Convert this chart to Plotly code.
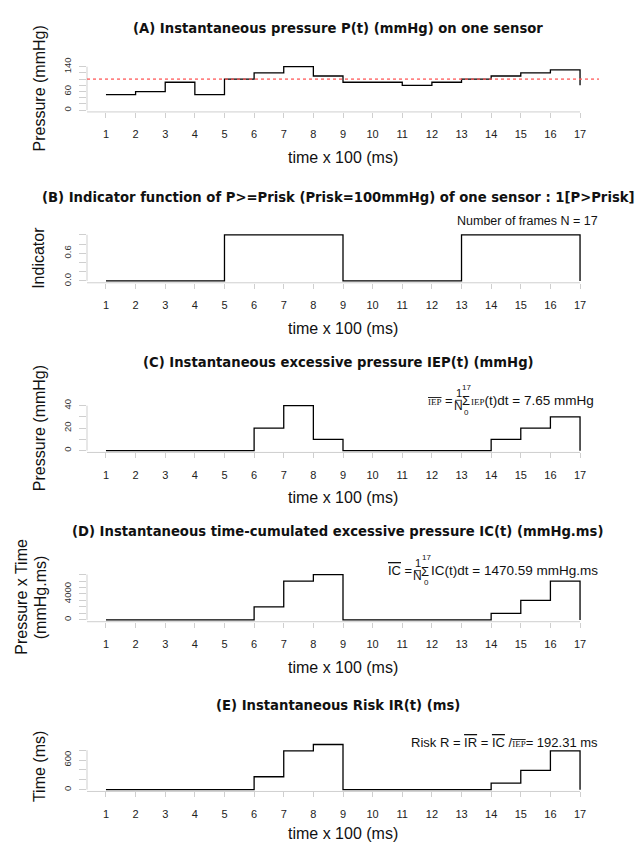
import plotly.graph_objects as go

# ---------------- data ----------------
time = list(range(1, 18))
pressure = [50, 60, 90, 50, 100, 120, 140, 110, 90, 90, 80, 90, 100, 110, 120, 130, 80]
indicator = [0, 0, 0, 0, 1, 1, 1, 1, 0, 0, 0, 0, 1, 1, 1, 1, 0]
iep = [0, 0, 0, 0, 0, 20, 40, 10, 0, 0, 0, 0, 0, 10, 20, 30, 0]
ic = [0, 0, 0, 0, 0, 2000, 6000, 7000, 0, 0, 0, 0, 0, 1000, 3000, 6000, 0]
ir = [0, 0, 0, 0, 0, 261.54, 784.62, 915.38, 0, 0, 0, 0, 0, 130.77, 392.31, 784.62, 0]
p_risk = 100

a_yticks = [0, 20, 40, 60, 80, 100, 120, 140]
a_ylabels = ["0", "", "", "60", "", "", "", "140"]
b_yticks = [0, 0.2, 0.4, 0.6, 0.8, 1.0]
b_ylabels = ["0.0", "", "", "0.6", "", ""]
c_yticks = [0, 10, 20, 30, 40]
c_ylabels = ["0", "", "20", "", "40"]
d_yticks = [0, 1000, 2000, 3000, 4000, 5000, 6000, 7000]
d_ylabels = ["0", "", "", "", "4000", "", "", ""]
e_yticks = [0, 200, 400, 600, 800]
e_ylabels = ["0", "", "", "600", ""]

titles = [
    "(A) Instantaneous pressure P(t) (mmHg) on one sensor",
    "(B) Indicator function of P>=Prisk (Prisk=100mmHg) of one sensor : 1[P>Prisk]",
    "(C) Instantaneous excessive pressure IEP(t) (mmHg)",
    "(D) Instantaneous time-cumulated excessive pressure IC(t) (mmHg.ms)",
    "(E) Instantaneous Risk IR(t) (ms)",
]
x_title = "time x 100 (ms)"

# ---------------- layout geometry ----------------
W, H = 644, 845
X_LEFT, X_RIGHT = 87, 599
XMIN, XMAX = 0.36, 17.64
SANS = "Liberation Sans, Arial, sans-serif"
SERIF = "Liberation Serif, serif"
BOLD = "DejaVu Sans, Verdana, sans-serif"
AX_GREY = "#cfcfcf"

panels = [
    dict(y=pressure, yt=a_yticks, yl=a_ylabels, yr=[-5.6, 145.6], top=57.7, bot=105.3, ty=20.7,
         ytitle=["Pressure (mmHg)"]),
    dict(y=indicator, yt=b_yticks, yl=b_ylabels, yr=[-0.04, 1.04], top=227.9, bot=278.4, ty=191.7,
         ytitle=["Indicator"]),
    dict(y=iep, yt=c_yticks, yl=c_ylabels, yr=[-1.6, 41.6], top=401.1, bot=450.3, ty=359.3,
         ytitle=["Pressure (mmHg)"]),
    dict(y=ic, yt=d_yticks, yl=d_ylabels, yr=[-280, 7280], top=572.2, bot=621.8, ty=530.7,
         ytitle=["Pressure x Time", "(mmHg.ms)"]),
    dict(y=ir, yt=e_yticks, yl=e_ylabels, yr=[-36.6, 952.0], top=744.4, bot=793.8, ty=706.7,
         ytitle=["Time (ms)"]),
]


def px(x):
    return x / W


def py(y):
    return 1 - y / H


fig = go.Figure()
annotations = []
shapes = []


def ann(text, x, y, size=13, xanchor="center", family=SANS, color="#111", angle=0, bold=False):
    annotations.append(dict(
        text=f"<b>{text}</b>" if bold else text, x=px(x), y=py(y), xref="paper", yref="paper",
        xanchor=xanchor, yanchor="middle", showarrow=False, textangle=angle,
        font=dict(size=size, family=family, color=color), borderpad=0))


def seg(x0, y0, x1, y1, color="#111", width=1):
    shapes.append(dict(type="line", xref="paper", yref="paper", x0=px(x0), y0=py(y0),
                       x1=px(x1), y1=py(y1), line=dict(color=color, width=width)))


cx = (X_LEFT + X_RIGHT) / 2
layout = {}
for i, p in enumerate(panels):
    k = "" if i == 0 else str(i + 1)
    fig.add_trace(go.Scatter(x=time, y=p["y"], mode="lines",
                             line=dict(shape="hv", color="black", width=1.3),
                             xaxis="x" + k, yaxis="y" + k, hoverinfo="skip"))
    layout["xaxis" + k] = dict(
        domain=[px(X_LEFT), px(X_RIGHT)], range=[XMIN, XMAX], anchor="y" + k,
        tickvals=time, ticktext=[str(t) for t in time], ticks="outside", ticklen=5,
        tickcolor=AX_GREY, tickfont=dict(size=11, family=SANS, color="#222"),
        showgrid=False, zeroline=False, showline=False, ticklabelstandoff=7)
    layout["yaxis" + k] = dict(
        domain=[py(p["bot"]), py(p["top"])], range=p["yr"], anchor="x" + k,
        tickvals=p["yt"], ticktext=p["yl"], tickangle=-90, ticks="outside", ticklen=7,
        tickcolor=AX_GREY, tickfont=dict(size=9.5, family=SANS, color="#333"),
        showgrid=False, zeroline=False, showline=False, ticklabelstandoff=4)
    # axis lines (R style)
    shapes.append(dict(type="line", xref="x" + k, yref="y" + k + " domain",
                       x0=XMIN, x1=time[-1], y0=0, y1=0, line=dict(color=AX_GREY, width=1)))
    shapes.append(dict(type="line", xref="x" + k + " domain", yref="y" + k,
                       x0=0, x1=0, y0=p["yt"][0], y1=p["yt"][-1], line=dict(color=AX_GREY, width=1)))
    # titles
    ann(titles[i], 338, p["ty"], size=13.2, family=BOLD, bold=True, color="#111")
    ann(x_title, cx, min(p["bot"] + 46, 836.5), size=16, color="#111")
    ymid = (p["top"] + p["bot"]) / 2
    if len(p["ytitle"]) == 1:
        ann(p["ytitle"][0], 39, ymid, size=16, angle=-90)
    else:
        ann(p["ytitle"][0], 21.5, ymid, size=16, angle=-90)
        ann(p["ytitle"][1], 40, ymid, size=16, angle=-90)

# risk threshold line in panel A
shapes.append(dict(type="line", xref="x domain", yref="y", x0=0, x1=1, y0=p_risk, y1=p_risk,
                   line=dict(color="rgba(255,90,90,0.75)", width=1.6, dash="dot")))

# panel B note
ann("Number of frames N = 17", 599, 216, size=12.5, xanchor="right")

OL = "<span style='text-decoration:overline'>{}</span>"
SM = "<span style='font-family:Liberation Serif;font-size:9px'>{}</span>"
SMOL = "<span style='font-family:Liberation Serif;font-size:9px;text-decoration:overline'>{}</span>"

# panel C formula
yc = 397.5
ann(SMOL.format("IEP") + " =", 454, yc, xanchor="right", size=13)
ann("1", 458.5, yc - 7.5, size=11)
ann("N", 458.5, yc + 5.5, size=12)
seg(455, yc, 462, yc, width=0.8)
ann("Σ", 466.3, yc + 0.5, size=13)
ann("17", 467, yc - 13, size=8)
ann("0", 467, yc + 12, size=8)
ann(SM.format("IEP") + "(t)dt = 7.65 mmHg", 470, yc, xanchor="left", size=13.5)

# panel D formula
yd = 570
ann(OL.format("IC") + " =", 413, yd, xanchor="right", size=13)
ann("1", 417.5, yd - 7.5, size=11)
ann("N", 417.5, yd + 5.5, size=12)
seg(414, yd, 421, yd, width=0.8)
ann("Σ", 425.3, yd + 0.5, size=13)
ann("17", 426, yd - 13, size=8)
ann("0", 426, yd + 12, size=8)
ann("IC(t)dt = 1470.59 mmHg.ms", 429.5, yd, xanchor="left", size=13.5)

# panel E formula
ann("Risk R = " + OL.format("IR") + " = " + OL.format("IC") + " /" + SMOL.format("IEP") + "= 192.31 ms",
    599, 744.3, xanchor="right", size=13)

fig.update_layout(
    width=W, height=H, margin=dict(l=0, r=0, t=0, b=0), autosize=False,
    paper_bgcolor="white", plot_bgcolor="white", showlegend=False,
    annotations=annotations, shapes=shapes, **layout)

fig.write_html("out.html", config={"displayModeBar": False},
               post_script="document.body.style.margin='0px';document.body.style.overflow='hidden';")
